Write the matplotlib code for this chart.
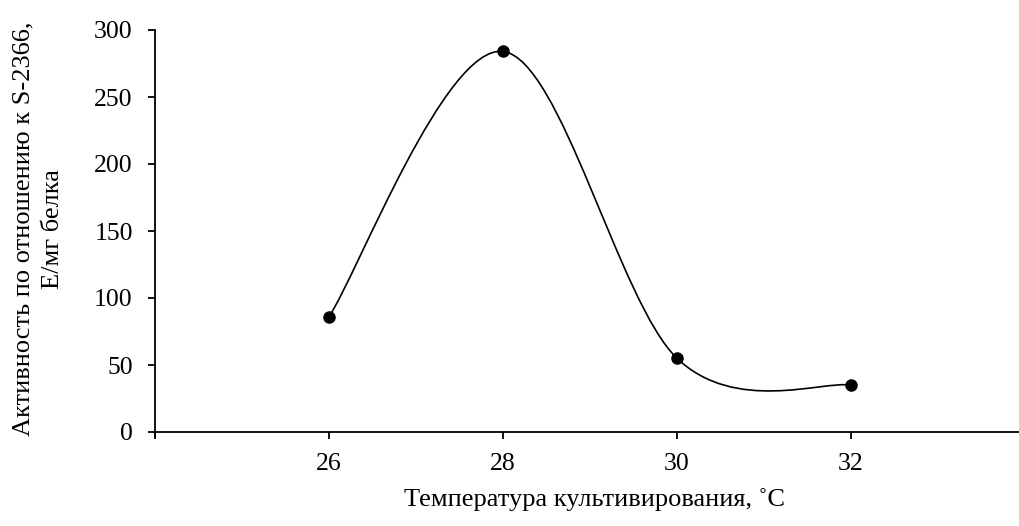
import numpy as np
import matplotlib.pyplot as plt
from matplotlib.path import Path
from matplotlib.patches import PathPatch

plt.rcParams['font.family'] = ['Liberation Serif', 'DejaVu Serif']

# temperature of cultivation and activity
temp = [26, 28, 30, 32]
activity = [86, 284, 55, 35]

fig = plt.figure(figsize=(10.2, 5.26), dpi=100)
ax = fig.add_axes([155 / 1020, 1 - 432 / 526, 870 / 1020, 402 / 526])

# smoothed line: cubic bezier segments, control points from neighbouring points
pts = np.column_stack([temp, activity]).astype(float)
ext = np.vstack([pts[0], pts, pts[-1]])
verts = [pts[0]]
codes = [Path.MOVETO]
for i in range(len(pts) - 1):
    p0, p1, p2, p3 = ext[i], ext[i + 1], ext[i + 2], ext[i + 3]
    c1 = p1 + (p2 - p0) / 6
    c2 = p2 - (p3 - p1) / 6
    verts += [c1, c2, p2]
    codes += [Path.CURVE4] * 3
ax.add_patch(PathPatch(Path(verts, codes), facecolor='none', edgecolor='black', lw=1.2, zorder=2))
ax.plot(temp, activity, 'o', color='black', markersize=8, zorder=3)

ax.set_xlim(24, 34)
ax.set_ylim(0, 300)
ax.set_xticks([24, 26, 28, 30, 32, 34])
ax.set_xticklabels(['', '26', '28', '30', '32', ''])
ax.set_yticks(range(0, 301, 50))
ax.spines['top'].set_visible(False)
ax.spines['right'].set_visible(False)
ax.spines['left'].set_bounds(-4, 300)
ax.spines['left'].set_linewidth(1.3)
ax.spines['bottom'].set_linewidth(1.3)
ax.tick_params(axis='both', labelsize=18.5, width=1.3, length=5, direction='out')
ax.tick_params(axis='x', pad=10)
ax.tick_params(axis='y', pad=11)

fig.text(0.583, 1 - 500 / 526, 'Температура культивирования, ˚С', fontsize=19,
         ha='center', va='center')
fig.text(38 / 1020, 1 - 229 / 526, 'Активность по отношению к S-2366,\nЕ/мг белка',
         fontsize=19, ha='center', va='center', rotation=90, linespacing=1.45)

fig.savefig('out.png', dpi=100)
